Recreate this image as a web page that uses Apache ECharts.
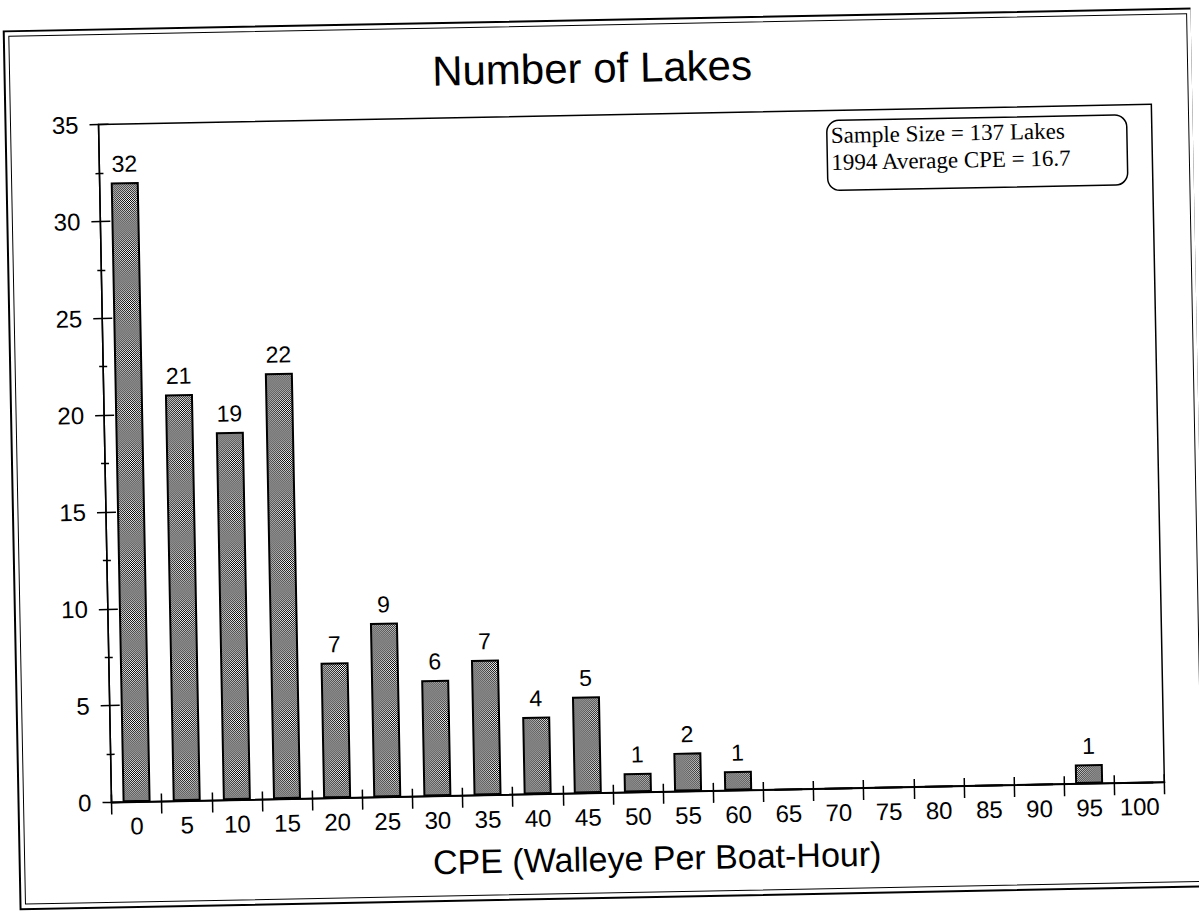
<!DOCTYPE html>
<html><head><meta charset="utf-8">
<script src="https://cdn.jsdelivr.net/npm/echarts@6/dist/echarts.min.js"></script>
<style>
html,body{margin:0;padding:0;background:#fff;overflow:hidden}
#chart{width:1199px;height:914px;transform:rotate(-1.1deg);transform-origin:600px 457px}
</style>
</head><body><div id="chart"></div>
<script>
const categories = ['0','5','10','15','20','25','30','35','40','45','50','55','60','65','70','75','80','85','90','95','100'];
const lakeCounts = [32,21,19,22,7,9,6,7,4,5,1,2,1,0,0,0,0,0,0,1,0];
const yMin = 0, yMax = 35, yStep = 5;
const titleText = 'Number of Lakes';
const xAxisTitle = 'CPE (Walleye Per Boat-Hour)';
const noteLines = ['Sample Size = 137 Lakes', '1994 Average CPE = 16.7'];

function stipple() {
  const c = document.createElement('canvas');
  c.width = 4; c.height = 4;
  const g = c.getContext('2d');
  g.fillStyle = '#fff'; g.fillRect(0, 0, 4, 4);
  g.fillStyle = '#000';
  [[0,0],[2,0],[1,1],[3,1],[0,2],[2,2],[1,3],[3,3]].forEach(p => g.fillRect(p[0], p[1], 1, 1));
  return c.toDataURL();
}
const sans = '"Liberation Sans", Arial, Helvetica, sans-serif';
const serif = '"Liberation Serif", "Times New Roman", serif';

const chart = echarts.init(document.getElementById('chart'), null, {renderer: 'svg'});
chart.setOption({
  backgroundColor: '#fff',
  animation: false,
  title: {
    text: titleText, left: 'center', top: 47, padding: [0, 0, 0, 22],
    textStyle: {fontFamily: sans, fontSize: 42, fontWeight: 'normal', color: '#000'}
  },
  grid: {left: 105, top: 115, right: 41, bottom: 121, show: true, borderColor: '#000', borderWidth: 1.5, containLabel: false},
  xAxis: [{
    type: 'category', data: categories, position: 'bottom',
    name: xAxisTitle, nameLocation: 'middle', nameGap: 49,
    nameTextStyle: {fontFamily: sans, fontSize: 34, color: '#000', padding: [0, 0, 0, 36]},
    axisLine: {show: true, lineStyle: {color: '#000', width: 2}},
    axisTick: {show: true, inside: false, length: 12, interval: 0, lineStyle: {color: '#000', width: 1.5}},
    axisLabel: {interval: 0, margin: 12, fontFamily: sans, fontSize: 24, color: '#000'},
    splitLine: {show: false}
  }, {
    type: 'category', data: categories, position: 'bottom',
    axisLine: {show: false},
    axisTick: {show: true, inside: true, length: 8, interval: 0, lineStyle: {color: '#000', width: 1.5}},
    axisLabel: {show: false}, splitLine: {show: false}
  }],
  yAxis: [{
    type: 'value', min: yMin, max: yMax, interval: yStep, position: 'left',
    axisLine: {show: true, lineStyle: {color: '#000', width: 1.5}},
    axisTick: {show: true, inside: false, length: 9, lineStyle: {color: '#000', width: 1.5}},
    minorTick: {show: true, splitNumber: 2, length: 4, lineStyle: {color: '#000', width: 1.5}},
    axisLabel: {margin: 20, fontFamily: sans, fontSize: 24, color: '#000'},
    splitLine: {show: false}
  }, {
    type: 'value', min: yMin, max: yMax, interval: yStep, position: 'left',
    axisLine: {show: false},
    axisTick: {show: true, inside: true, length: 10, lineStyle: {color: '#000', width: 1.5}},
    minorTick: {show: true, splitNumber: 2, length: 4, lineStyle: {color: '#000', width: 1.5}},
    axisLabel: {show: false}, splitLine: {show: false}
  }],
  series: [{
    type: 'bar', data: lakeCounts, xAxisIndex: 0, yAxisIndex: 0, barWidth: 28,
    itemStyle: {
      color: {image: stipple(), repeat: 'repeat', imageWidth: 4, imageHeight: 4},
      borderColor: '#000', borderWidth: 2
    },
    label: {
      show: true, position: 'top', distance: 7,
      fontFamily: sans, fontSize: 23, color: '#000',
      formatter: p => (p.value > 0 ? String(p.value) : '')
    }
  }],
  graphic: [
    {type: 'rect', shape: {x: 12, y: 20, width: 1188, height: 878}, style: {fill: 'none', stroke: '#000', lineWidth: 2}, silent: true},
    {type: 'rect', shape: {x: 17, y: 25, width: 1178, height: 868}, style: {fill: 'none', stroke: '#000', lineWidth: 1}, silent: true},
    {type: 'rect', shape: {x: 833, y: 125, width: 300, height: 70, r: 12}, style: {fill: '#fff', stroke: '#000', lineWidth: 1.5}, z: 10},
    {type: 'text', x: 837, y: 140, style: {text: noteLines[0], font: '23px ' + serif, fill: '#000', textVerticalAlign: 'middle'}, z: 11},
    {type: 'text', x: 837, y: 167, style: {text: noteLines[1], font: '23px ' + serif, fill: '#000', textVerticalAlign: 'middle'}, z: 11}
  ]
});
</script>
</body></html>
